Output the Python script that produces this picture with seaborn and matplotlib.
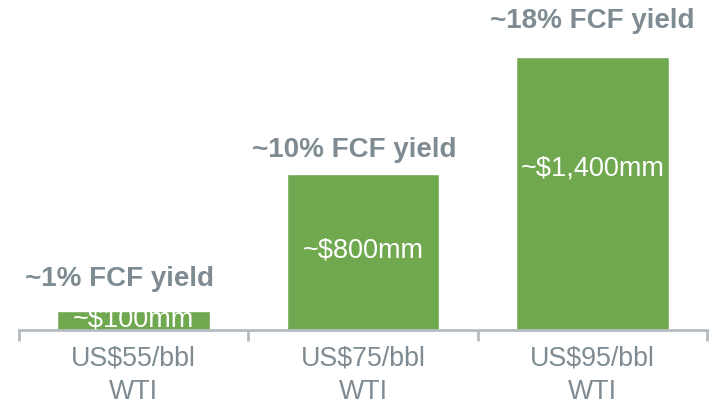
import matplotlib
matplotlib.use("Agg")
import numpy as np
import pandas as pd
from matplotlib import pyplot as plt
import seaborn as sns

# data
categories = ["US$55/bbl\nWTI", "US$75/bbl\nWTI", "US$95/bbl\nWTI"]
fcf_mm = [100, 800, 1400]
value_labels = ["~$100mm", "~$800mm", "~$1,400mm"]
yield_labels = ["~1% FCF yield", "~10% FCF yield", "~18% FCF yield"]

GREEN = "#70a84f"
GREY_TXT = "#7f8b93"
GREY_AX = "#b4bbc0"

sns.set_style("white")
plt.rcParams["font.family"] = ["Liberation Sans", "DejaVu Sans"]

df = pd.DataFrame({"case": categories, "fcf": fcf_mm})

fig = plt.figure(figsize=(7.18, 4.04), dpi=100)
ax = fig.add_axes([0.026, 0.183, 0.959, 0.817])

sns.barplot(data=df, x="case", y="fcf", color=GREEN, saturation=1, width=0.665, ax=ax)

ax.set_xlim(-0.5, 2.5)
ax.set_ylim(0, 1692)

# label placement (data units), tuned by eye
value_y = [52, 410, 830]
yield_y = [262, 925, 1582]
yield_dx = [-0.06, -0.04, 0.0]

for i, bar in enumerate(ax.patches):
    xc = bar.get_x() + bar.get_width() / 2
    ax.text(xc, value_y[i], value_labels[i], ha="center", va="center",
            color="white", fontsize=19.5)
    ax.text(xc + yield_dx[i], yield_y[i], yield_labels[i], ha="center", va="center",
            color=GREY_TXT, fontsize=20, fontweight="bold")

for s in ["top", "right", "left"]:
    ax.spines[s].set_visible(False)
ax.spines["bottom"].set_color(GREY_AX)
ax.spines["bottom"].set_linewidth(2)

ax.set_yticks([])
ax.set_xlabel("")
ax.set_ylabel("")
ax.set_xticks(range(len(categories)))
ax.set_xticklabels(categories, fontsize=19.3, color=GREY_TXT, linespacing=1.4)
ax.tick_params(axis="x", which="major", length=0, pad=11)
ax.set_xticks([-0.5, 0.5, 1.5, 2.5], minor=True)
ax.tick_params(axis="x", which="minor", bottom=True, length=8, width=2,
               color=GREY_AX, direction="out")

fig.savefig("out.png", dpi=100)
